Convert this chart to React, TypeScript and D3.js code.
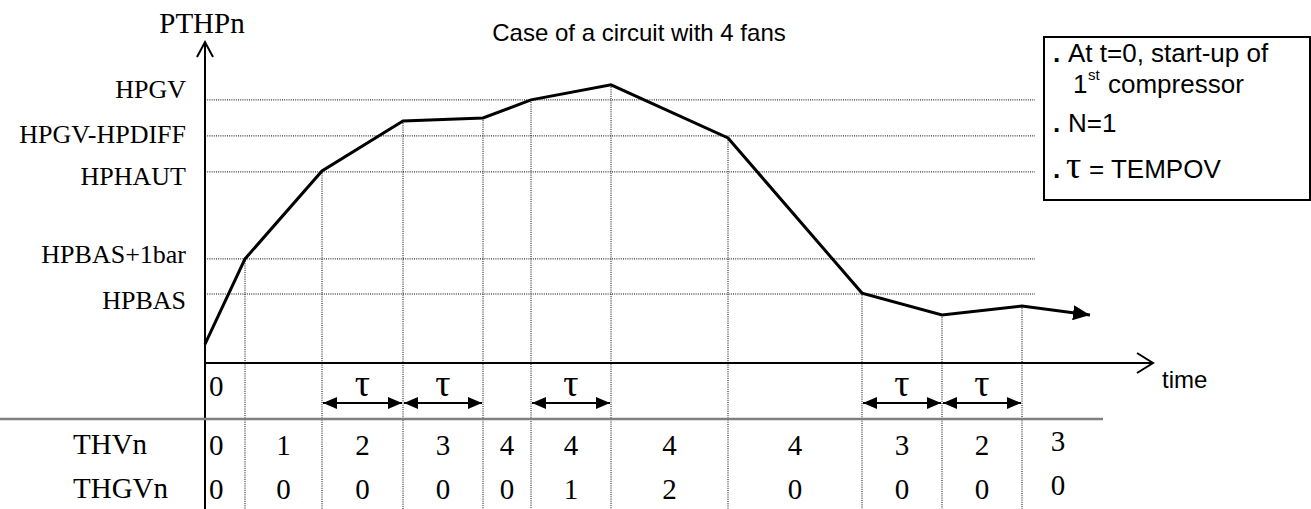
import React from 'react';
import * as d3 from 'd3';

// event instants (time units) and the PTHPn value reached at each one
const eventTimes = [0, 4, 11.7, 19.8, 27.8, 32.6, 40.6, 52.3, 65.7, 73.7, 81.7];
const pressure = [0.63, 3.47, 6.4, 8.07, 8.17, 8.77, 9.27, 7.5, 2.33, 1.6, 1.9];
const curveEnd = { t: 88.5, p: 1.6 };
const tableEnd = 88.9;

const levelNames = ['HPGV', 'HPGV-HPDIFF', 'HPHAUT', 'HPBAS+1bar', 'HPBAS'];
const levelValues = [8.77, 7.57, 6.37, 3.47, 2.3];

const thvn = [0, 1, 2, 3, 4, 4, 4, 4, 3, 2, 3];
const thgvn = [0, 0, 0, 0, 0, 1, 2, 0, 0, 0, 0];

const tauSpans: [number, number][] = [
  [11.7, 19.8],
  [19.8, 27.8],
  [32.6, 40.6],
  [65.7, 73.7],
  [73.7, 81.7],
];

const W = 1311;
const H = 509;
const SERIF = '"Liberation Serif", "Times New Roman", serif';
const SANS = '"Liberation Sans", Arial, sans-serif';

const App: React.FC = () => {
  const x = d3.scaleLinear().domain([0, 95]).range([205, 1155]);
  const y = d3.scaleLinear().domain([0, 10]).range([363, 63]);

  const pts: [number, number][] = eventTimes.map((t, i) => [x(t), y(pressure[i])]);
  pts.push([x(curveEnd.t), y(curveEnd.p)]);
  const line = d3.line()(pts) || '';

  const gridEnd = x(83);
  // baseline nudges for the level labels
  const labelNudge = [-2, 7, 13, 4, 15];

  const bounds = [...eventTimes, tableEnd];
  const cells = thvn.map((v, i) => ({
    cx: i === 0 ? x(0) + 4 : (x(bounds[i]) + x(bounds[i + 1])) / 2,
    first: i === 0,
    a: v,
    b: thgvn[i],
  }));

  const dot = { stroke: '#000', strokeWidth: 1, strokeDasharray: '1,1.2' };

  return (
    <svg
      width={W}
      height={H}
      style={{ position: 'absolute', left: 0, top: 0, background: '#fff' }}
    >
      <defs>
        <marker
          id="head"
          viewBox="0 0 14 12"
          refX={14}
          refY={6}
          markerWidth={14}
          markerHeight={12}
          markerUnits="userSpaceOnUse"
          orient="auto-start-reverse"
        >
          <path d="M0,0 L14,6 L0,12 Z" fill="#000" />
        </marker>
        <marker
          id="bighead"
          viewBox="0 0 17 15"
          refX={17}
          refY={7.5}
          markerWidth={17}
          markerHeight={15}
          markerUnits="userSpaceOnUse"
          orient="auto"
        >
          <path d="M0,0 L17,7.5 L0,15 Z" fill="#000" />
        </marker>
      </defs>

      {/* title */}
      <text x={639} y={41} fontFamily={SANS} fontSize={24} textAnchor="middle">
        Case of a circuit with 4 fans
      </text>

      {/* horizontal level lines + labels */}
      {levelValues.map((v, i) => (
        <g key={levelNames[i]}>
          <line x1={x(0)} x2={gridEnd} y1={y(v)} y2={y(v)} {...dot} />
          <text
            x={186}
            y={y(v) + labelNudge[i]}
            fontFamily={SERIF}
            fontSize={26}
            textAnchor="end"
          >
            {levelNames[i]}
          </text>
        </g>
      ))}

      {/* vertical event lines */}
      {eventTimes.slice(1).map((t, i) => (
        <line key={t} x1={x(t)} x2={x(t)} y1={y(pressure[i + 1])} y2={H} {...dot} />
      ))}

      {/* axes */}
      <line x1={x(0)} x2={x(0)} y1={42} y2={H} stroke="#000" strokeWidth={2} />
      <path d={`M${x(0) - 8},57 L${x(0)},42 L${x(0) + 8},57`} fill="none" stroke="#000" strokeWidth={2} />
      <text x={x(0) - 3} y={33} fontFamily={SERIF} fontSize={29} textAnchor="middle">
        PTHPn
      </text>

      <line x1={x(0)} x2={1152} y1={y(0)} y2={y(0)} stroke="#000" strokeWidth={2} />
      <path d={`M1137,${y(0) - 10} L1153,${y(0)} L1137,${y(0) + 10}`} fill="none" stroke="#000" strokeWidth={2} />
      <text x={1162} y={388} fontFamily={SANS} fontSize={24}>
        time
      </text>
      <text x={x(0) + 4} y={396} fontFamily={SERIF} fontSize={29}>
        0
      </text>

      {/* pressure curve */}
      <path d={line} fill="none" stroke="#000" strokeWidth={3} strokeLinejoin="miter" markerEnd="url(#bighead)" />

      {/* tau spans */}
      {tauSpans.map(([a, b]) => (
        <g key={a}>
          <line
            x1={x(a) + 1}
            x2={x(b) - 1}
            y1={403}
            y2={403}
            stroke="#000"
            strokeWidth={2}
            markerStart="url(#head)"
            markerEnd="url(#head)"
          />
          <text x={(x(a) + x(b)) / 2} y={396} fontFamily={SERIF} fontSize={38} textAnchor="middle">
            τ
          </text>
        </g>
      ))}

      {/* table */}
      <line x1={0} x2={1103} y1={419} y2={419} stroke="#808080" strokeWidth={2.5} />
      <text x={73} y={454} fontFamily={SERIF} fontSize={29}>
        THVn
      </text>
      <text x={73} y={498} fontFamily={SERIF} fontSize={29}>
        THGVn
      </text>
      {cells.map((c, i) => (
        <g key={i} fontFamily={SERIF} fontSize={29} textAnchor={c.first ? 'start' : 'middle'}>
          <text x={c.cx} y={i === cells.length - 1 ? 451 : 455}>{c.a}</text>
          <text x={c.cx} y={i === cells.length - 1 ? 495 : 499}>{c.b}</text>
        </g>
      ))}

      {/* note box */}
      <rect x={1044} y={37} width={266} height={163} fill="none" stroke="#000" strokeWidth={2} />
      <g fontFamily={SANS} fontSize={26}>
        <text x={1053} y={62} fontWeight="bold">.</text>
        <text x={1068} y={62}>At t=0, start-up of</text>
        <text x={1073} y={93}>1</text>
        <text x={1088} y={80} fontSize={15}>st</text>
        <text x={1108} y={93}>compressor</text>
        <text x={1053} y={132} fontWeight="bold">.</text>
        <text x={1068} y={132}>N=1</text>
        <text x={1053} y={178} fontWeight="bold">.</text>
        <text x={1066} y={178} fontFamily={SERIF} fontSize={38}>τ</text>
        <text x={1089} y={178}>= TEMPOV</text>
      </g>
    </svg>
  );
};

export default App;
